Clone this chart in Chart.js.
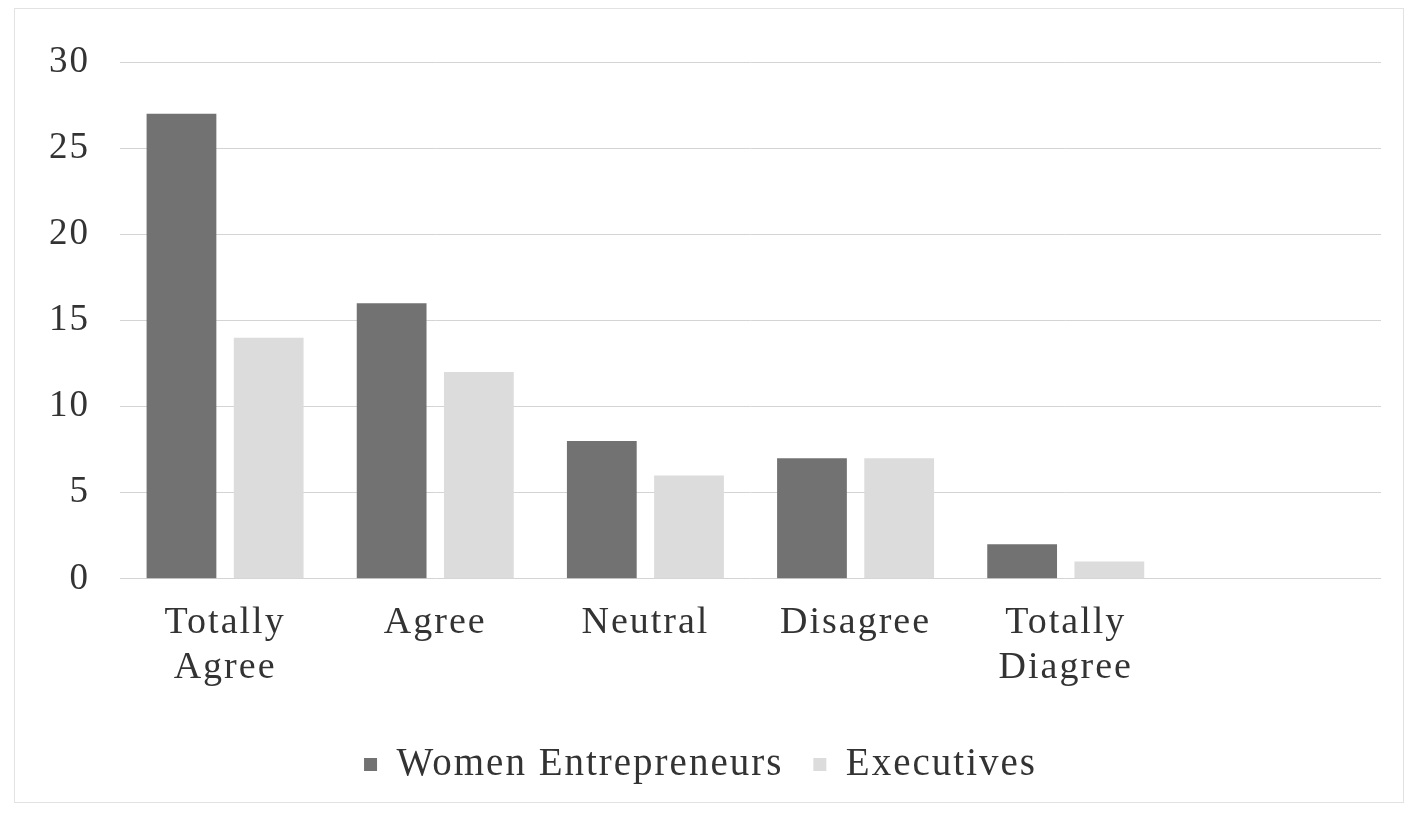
<!DOCTYPE html>
<html>
<head>
<meta charset="utf-8">
<script src="https://cdn.jsdelivr.net/npm/chart.js@4/dist/chart.umd.min.js"></script>
<style>
  html, body { margin: 0; padding: 0; background: #fff; overflow: hidden; }
  #wrap { position: relative; width: 1409px; height: 813px; overflow: hidden; }
  #frame { position: absolute; left: 14px; top: 8px; width: 1390px; height: 795px; border: 1px solid #e2e2e2; box-sizing: border-box; }
  canvas { position: absolute; left: 0; top: 0; }
</style>
</head>
<body>
<div id="wrap">
  <div id="frame"></div>
  <canvas id="grafico" width="1409" height="813"></canvas>
</div>
<script>
const categorie = [['Totally', 'Agree'], 'Agree', 'Neutral', 'Disagree', ['Totally', 'Diagree'], ''];
const donne = [27, 16, 8, 7, 2, null];
const dirigenti = [14, 12, 6, 7, 1, null];
const tickY = [0, 5, 10, 15, 20, 25, 30];

const serif = "'Liberation Serif', 'DejaVu Serif', serif";
const ctx = document.getElementById('grafico').getContext('2d');

// spaziatura larga come nella scansione
const spaziatura = {
  id: 'spaziatura',
  beforeUpdate: chart => { chart.ctx.letterSpacing = '2px'; },
  beforeDraw: chart => { chart.ctx.letterSpacing = '2px'; }
};

new Chart(ctx, {
  type: 'bar',
  data: {
    labels: categorie,
    datasets: [{
      label: 'Women Entrepreneurs',
      data: donne,
      backgroundColor: '#727272',
      categoryPercentage: 0.83,
      barPercentage: 0.8
    }, {
      label: 'Executives',
      data: dirigenti,
      backgroundColor: '#dcdcdc',
      categoryPercentage: 0.83,
      barPercentage: 0.8
    }]
  },
  options: {
    responsive: false,
    animation: false,
    layout: { padding: { top: 62, left: 20, right: 28, bottom: 19 } },
    scales: {
      x: {
        afterFit: s => { s.height += 11; },
        grid: { display: false },
        border: { display: false },
        ticks: {
          color: '#333',
          font: { family: serif, size: 38, lineHeight: 1.2 },
          padding: 13,
          maxRotation: 0,
          autoSkip: false
        }
      },
      y: {
        min: 0,
        max: 30,
        afterBuildTicks: s => { s.ticks = tickY.map(v => ({ value: v })); },
        afterFit: s => { s.width = 100; },
        grid: { color: '#d4d4d4', drawTicks: false },
        border: { display: false },
        ticks: {
          color: '#333',
          font: { family: serif, size: 37 },
          padding: 30
        }
      }
    },
    plugins: {
      legend: {
        position: 'bottom',
        labels: {
          color: '#333',
          font: { family: serif, size: 39 },
          boxWidth: 13,
          boxHeight: 13,
          padding: 30
        }
      },
      tooltip: { enabled: false }
    }
  },
  plugins: [spaziatura]
});
</script>
</body>
</html>
